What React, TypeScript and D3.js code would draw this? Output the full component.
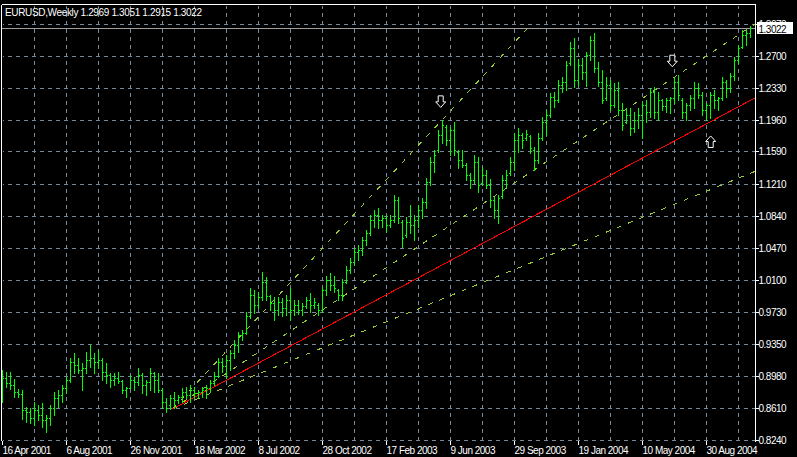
import React from "react";
import * as d3 from "d3";

// ---------- data ----------
const chartTitle = "EURUSD,Weekly  1.2969 1.3051 1.2915 1.3022";
const lastClose = 1.3022;

// weekly bars: [open, high, low, close]
const weeklyBars: number[][] = [
  [0.8763,0.9053,0.8682,0.8960],[0.8960,0.9030,0.8856,0.8902],[0.8902,0.9030,0.8833,0.8879],[0.8879,0.8949,0.8740,0.8798],
  [0.8798,0.8833,0.8740,0.8775],[0.8775,0.8821,0.8484,0.8588],[0.8588,0.8624,0.8449,0.8565],[0.8565,0.8612,0.8437,0.8495],
  [0.8495,0.8682,0.8414,0.8588],[0.8588,0.8647,0.8472,0.8530],[0.8530,0.8670,0.8391,0.8472],[0.8472,0.8530,0.8333,0.8495],
  [0.8495,0.8647,0.8414,0.8612],[0.8612,0.8798,0.8530,0.8728],[0.8728,0.8821,0.8624,0.8763],[0.8763,0.8879,0.8682,0.8844],
  [0.8844,0.8972,0.8786,0.8937],[0.8937,0.9192,0.8914,0.9146],[0.9146,0.9250,0.9018,0.9111],[0.9111,0.9192,0.9018,0.9053],
  [0.9053,0.9134,0.8821,0.9076],[0.9076,0.9262,0.9018,0.9169],[0.9169,0.9343,0.9088,0.9192],[0.9192,0.9250,0.9018,0.9146],
  [0.9146,0.9285,0.9076,0.9169],[0.9169,0.9192,0.8937,0.9030],[0.9030,0.9134,0.8902,0.8995],[0.8995,0.9018,0.8856,0.8937],
  [0.8937,0.9018,0.8879,0.8960],[0.8960,0.9030,0.8902,0.8925],[0.8925,0.8937,0.8786,0.8821],[0.8821,0.8856,0.8740,0.8844],
  [0.8844,0.8995,0.8844,0.8937],[0.8937,0.8972,0.8821,0.8914],[0.8914,0.9076,0.8879,0.8995],[0.8995,0.9018,0.8786,0.8879],
  [0.8879,0.8937,0.8763,0.8914],[0.8914,0.9076,0.8821,0.9018],[0.9018,0.9030,0.8798,0.8937],[0.8937,0.9018,0.8798,0.8821],
  [0.8821,0.8844,0.8612,0.8682],[0.8682,0.8728,0.8565,0.8612],[0.8647,0.8763,0.8600,0.8728],[0.8728,0.8798,0.8612,0.8705],
  [0.8705,0.8763,0.8670,0.8740],[0.8740,0.8844,0.8682,0.8798],[0.8798,0.8856,0.8728,0.8763],[0.8763,0.8879,0.8682,0.8821],
  [0.8821,0.8856,0.8728,0.8786],[0.8786,0.8821,0.8740,0.8798],[0.8798,0.8856,0.8740,0.8821],[0.8821,0.8879,0.8728,0.8844],
  [0.8844,0.8937,0.8798,0.8902],[0.8902,0.9030,0.8879,0.8983],[0.8983,0.9192,0.8972,0.9146],[0.9146,0.9192,0.9030,0.9099],
  [0.9099,0.9227,0.8960,0.9169],[0.9169,0.9285,0.9053,0.9250],[0.9250,0.9401,0.9192,0.9343],[0.9343,0.9494,0.9262,0.9459],
  [0.9459,0.9517,0.9401,0.9482],[0.9482,0.9727,0.9471,0.9680],[0.9680,1.0005,0.9657,0.9924],[0.9924,0.9982,0.9715,0.9808],
  [0.9808,0.9959,0.9773,0.9901],[0.9901,1.0191,0.9866,1.0075],[1.0075,1.0133,0.9866,0.9912],[0.9912,0.9924,0.9750,0.9831],
  [0.9831,0.9901,0.9633,0.9750],[0.9750,0.9901,0.9692,0.9843],[0.9843,0.9889,0.9680,0.9773],[0.9773,0.9924,0.9692,0.9866],
  [0.9866,1.0005,0.9633,0.9750],[0.9750,0.9866,0.9692,0.9808],[0.9808,0.9866,0.9703,0.9750],[0.9750,0.9831,0.9692,0.9796],
  [0.9796,0.9901,0.9773,0.9866],[0.9866,0.9947,0.9727,0.9808],[0.9808,0.9889,0.9773,0.9843],[0.9808,0.9831,0.9692,0.9750],
  [0.9750,1.0017,0.9727,0.9982],[0.9982,1.0144,0.9924,1.0098],[1.0098,1.0179,0.9982,1.0040],[1.0040,1.0144,0.9959,1.0005],
  [0.9982,0.9994,0.9866,0.9924],[0.9924,1.0110,0.9866,1.0075],[1.0075,1.0260,1.0063,1.0214],[1.0214,1.0353,1.0179,1.0307],
  [1.0307,1.0469,1.0272,1.0423],[1.0423,1.0504,1.0330,1.0446],[1.0446,1.0597,1.0388,1.0562],[1.0562,1.0678,1.0504,1.0643],
  [1.0643,1.0853,1.0620,1.0795],[1.0795,1.0911,1.0714,1.0853],[1.0853,1.0934,1.0702,1.0795],[1.0795,1.0853,1.0714,1.0818],
  [1.0818,1.0853,1.0655,1.0737],[1.0737,1.0853,1.0714,1.0795],[1.0795,1.1085,1.0772,1.1027],[1.1027,1.1062,1.0760,1.0818],
  [1.0772,1.0795,1.0481,1.0585],[1.0620,1.0830,1.0597,1.0772],[1.0772,1.0969,1.0643,1.0737],[1.0737,1.0853,1.0562,1.0795],
  [1.0795,1.0969,1.0714,1.0911],[1.0911,1.1050,1.0818,1.1004],[1.1004,1.1282,1.0934,1.1236],[1.1236,1.1526,1.1201,1.1468],
  [1.1468,1.1607,1.1352,1.1549],[1.1607,1.1840,1.1584,1.1782],[1.1782,1.1956,1.1688,1.1898],[1.1875,1.1898,1.1665,1.1723],
  [1.1723,1.1875,1.1549,1.1840],[1.1840,1.1933,1.1549,1.1607],[1.1584,1.1607,1.1398,1.1491],[1.1491,1.1607,1.1410,1.1433],
  [1.1433,1.1456,1.1259,1.1317],[1.1317,1.1340,1.1166,1.1259],[1.1259,1.1549,1.1224,1.1468],[1.1468,1.1526,1.1120,1.1201],
  [1.1224,1.1410,1.1201,1.1317],[1.1317,1.1375,1.1166,1.1201],[1.1201,1.1271,1.0946,1.1027],[1.1027,1.1062,1.0818,1.0911],
  [1.0911,1.1085,1.0760,1.1050],[1.1073,1.1317,1.1050,1.1259],[1.1259,1.1375,1.1178,1.1317],[1.1340,1.1526,1.1317,1.1468],
  [1.1468,1.1805,1.1375,1.1723],[1.1723,1.1863,1.1584,1.1782],[1.1782,1.1805,1.1631,1.1723],[1.1747,1.1840,1.1723,1.1793],
  [1.1770,1.1782,1.1572,1.1631],[1.1607,1.1642,1.1375,1.1491],[1.1491,1.1805,1.1456,1.1747],[1.1747,1.1991,1.1723,1.1933],
  [1.1933,1.2072,1.1782,1.2014],[1.2014,1.2269,1.1991,1.2223],[1.2223,1.2281,1.2107,1.2188],[1.2188,1.2420,1.2165,1.2362],
  [1.2362,1.2455,1.2281,1.2397],[1.2397,1.2640,1.2304,1.2594],[1.2617,1.2862,1.2594,1.2791],[1.2791,1.2908,1.2339,1.2420],
  [1.2420,1.2664,1.2362,1.2594],[1.2594,1.2675,1.2432,1.2513],[1.2513,1.2745,1.2350,1.2710],[1.2710,1.2931,1.2652,1.2885],
  [1.2885,1.2966,1.2513,1.2559],[1.2559,1.2629,1.2350,1.2397],[1.2397,1.2536,1.2153,1.2188],[1.2211,1.2455,1.2188,1.2362],
  [1.2362,1.2420,1.2072,1.2130],[1.2130,1.2385,1.2107,1.2304],[1.2304,1.2397,1.2014,1.2072],[1.2072,1.2153,1.1840,1.1898],
  [1.1933,1.2095,1.1921,1.2014],[1.2014,1.2095,1.1782,1.1863],[1.1863,1.2049,1.1817,1.1956],[1.1956,1.2095,1.1863,1.2014],
  [1.2014,1.2165,1.1747,1.2130],[1.2130,1.2188,1.1933,1.2049],[1.2049,1.2327,1.1991,1.2281],[1.2281,1.2339,1.1979,1.2049],
  [1.2049,1.2281,1.1956,1.2188],[1.2188,1.2200,1.2072,1.2118],[1.2118,1.2211,1.2049,1.2188],[1.2188,1.2223,1.2037,1.2211],
  [1.2211,1.2443,1.2153,1.2397],[1.2397,1.2478,1.2188,1.2246],[1.2188,1.2211,1.1979,1.2049],[1.2049,1.2153,1.1956,1.2130],
  [1.2130,1.2246,1.2072,1.2211],[1.2211,1.2397,1.2095,1.2327],[1.2327,1.2385,1.2211,1.2246],[1.2246,1.2281,1.2014,1.2072],
  [1.2072,1.2153,1.1956,1.2130],[1.2130,1.2281,1.1979,1.2246],[1.2246,1.2304,1.2095,1.2188],[1.2188,1.2223,1.2072,1.2211],
  [1.2211,1.2455,1.2188,1.2397],[1.2397,1.2420,1.2223,1.2327],[1.2327,1.2501,1.2281,1.2466],[1.2466,1.2687,1.2420,1.2652],
  [1.2652,1.2826,1.2617,1.2791],[1.2803,1.3001,1.2791,1.2943],[1.2943,1.3001,1.2826,1.2966],[1.2969,1.3051,1.2915,1.3022],
];

const priceTicks = [1.307, 1.27, 1.233, 1.196, 1.159, 1.121, 1.084, 1.047, 1.01, 0.973, 0.935, 0.898, 0.861, 0.824];
const dateLabels = ["16 Apr 2001", "6 Aug 2001", "26 Nov 2001", "18 Mar 2002", "8 Jul 2002", "28 Oct 2002",
  "17 Feb 2003", "9 Jun 2003", "29 Sep 2003", "19 Jan 2004", "10 May 2004", "30 Aug 2004"];
const dateLabelBars = [0, 16, 32, 48, 64, 80, 96, 112, 128, 144, 160, 176];
const gridBars = [8, 16, 24, 32, 40, 48, 56, 64, 72, 80, 88, 96, 104, 112, 120, 128, 136, 144, 152, 160, 168, 176, 184];

// fan lines from the Nov 2001 low
const fanOrigin = { bar: 42.5, price: 0.86 };
const fanLines = [
  { bar: 131, price: 1.3007, kind: "dash" },
  { bar: 188.1, price: 1.307, kind: "dash" },
  { bar: 188.1, price: 1.1358, kind: "dash" },
  { bar: 188.1, price: 1.2211, kind: "solid" },
];

// arrow marks (tip position)
const arrowMarks = [
  { bar: 109.55, price: 1.2102, dir: "down" },
  { bar: 167.45, price: 1.2574, dir: "down" },
  { bar: 177.05, price: 1.177, dir: "up" },
];

// ---------- layout ----------
const W = 797;
const H = 457;
const plotLeft = 1.5;
const plotRight = 755.5;
const plotTop = 4.5;
const plotBottom = 440.5;
const FONT = "'Liberation Sans', Arial, sans-serif";
const GRID = "#778899";
const BAR = "#00ff00";
const FAN = "#9acd32";

export default function App() {
  React.useEffect(() => {
    document.body.style.margin = "0";
    document.body.style.background = "#000";
  }, []);

  const x = d3.scaleLinear().domain([0, 187]).range([2.5, 750.5]);
  const y = d3.scaleLinear().domain([0.824, 1.307]).range([440, 24]);
  const ry = (v: number) => Math.round(y(v));

  const arrowPath = (cx: number, ty: number, dir: string) => {
    const s = dir === "down" ? -1 : 1;
    const pts: [number, number][] = [
      [cx, ty],
      [cx + 5, ty + s * 5.5],
      [cx + 2.5, ty + s * 5.5],
      [cx + 2.5, ty + s * 11.5],
      [cx - 2.5, ty + s * 11.5],
      [cx - 2.5, ty + s * 5.5],
      [cx - 5, ty + s * 5.5],
    ];
    return d3.line()(pts) + "Z";
  };

  const lastY = ry(lastClose) + 0.5;

  return (
    <div style={{ position: "absolute", left: 0, top: 0 }}>
      <svg width={W} height={H} style={{ display: "block", background: "#000" }}>
        <defs>
          <clipPath id="plotClip">
            <rect x={plotLeft + 0.5} y={plotTop + 0.5} width={plotRight - plotLeft - 1} height={plotBottom - plotTop} />
          </clipPath>
        </defs>
        <rect x={0} y={0} width={W} height={H} fill="#000" />

        {/* grid */}
        <g stroke={GRID} strokeWidth={1} strokeDasharray="4 4" shapeRendering="crispEdges">
          {priceTicks.map((v) => (
            <line key={"h" + v} x1={plotRight} x2={plotLeft + 1} y1={ry(v) + 0.5} y2={ry(v) + 0.5} />
          ))}
          {gridBars.map((b) => (
            <line key={"v" + b} x1={x(b)} x2={x(b)} y1={plotBottom} y2={plotTop + 1} />
          ))}
        </g>

        {/* last price line */}
        <line x1={plotLeft} x2={plotRight} y1={lastY} y2={lastY} stroke="#a0a0a0" shapeRendering="crispEdges" />

        {/* fan lines */}
        <g clipPath="url(#plotClip)" shapeRendering="crispEdges">
          {fanLines.map((f, i) => (
            <line
              key={"f" + i}
              x1={x(fanOrigin.bar)}
              y1={y(fanOrigin.price)}
              x2={x(f.bar)}
              y2={y(f.price)}
              stroke={f.kind === "solid" ? "#ff0000" : FAN}
              strokeWidth={1}
              strokeDasharray={f.kind === "solid" ? undefined : "5 7"}
            />
          ))}
        </g>

        {/* bars */}
        <g fill={BAR} shapeRendering="crispEdges">
          {weeklyBars.map((d, i) => {
            const col = Math.round(x(i) - 0.5);
            const yh = ry(d[1]);
            const yl = ry(d[2]);
            return (
              <g key={"b" + i}>
                <rect x={col} y={yh} width={1} height={Math.max(1, yl - yh + 1)} />
                <rect x={col - 1} y={ry(d[0])} width={1} height={1} />
                <rect x={col + 1} y={ry(d[3])} width={1} height={1} />
              </g>
            );
          })}
        </g>

        {/* arrows */}
        {arrowMarks.map((a, i) => (
          <path key={"a" + i} d={arrowPath(x(a.bar), y(a.price), a.dir)} fill="#000" stroke="#fff" strokeWidth={1} />
        ))}

        {/* frame */}
        <g stroke="#fff" strokeWidth={1} shapeRendering="crispEdges">
          <line x1={plotLeft} x2={plotRight} y1={plotTop} y2={plotTop} />
          <line x1={plotLeft} x2={plotLeft} y1={plotTop} y2={plotBottom} />
          <line x1={plotRight} x2={plotRight} y1={plotTop} y2={plotBottom + 1} />
        </g>

        {/* title */}
        <text x={5} y={16} fill="#fff" fontFamily={FONT} fontSize={10} letterSpacing={-0.35}>
          {chartTitle}
        </text>

        {/* price axis */}
        <g fontFamily={FONT} fontSize={10} letterSpacing={-0.5}>
          {priceTicks.map((v) => (
            <g key={"t" + v}>
              <line x1={plotRight} x2={plotRight + 3} y1={ry(v) + 0.5} y2={ry(v) + 0.5} stroke="#fff" shapeRendering="crispEdges" />
              <text x={plotRight + 3} y={ry(v) + 4} fill="#fff">
                {v.toFixed(4)}
              </text>
            </g>
          ))}
          <rect x={757} y={lastY - 6.5} width={36} height={12} fill="#fff" />
          <text x={plotRight + 3} y={lastY + 4} fill="#000">
            {lastClose.toFixed(4)}
          </text>
        </g>

        {/* time axis */}
        <g fontFamily={FONT} fontSize={10} letterSpacing={-0.5}>
          {dateLabels.map((lab, i) => (
            <g key={"d" + i}>
              <line x1={x(dateLabelBars[i]) - 0.5} x2={x(dateLabelBars[i]) - 0.5} y1={plotBottom} y2={plotBottom + 4} stroke="#fff" shapeRendering="crispEdges" />
              <text x={x(dateLabelBars[i])} y={454} fill="#fff">
                {lab}
              </text>
            </g>
          ))}
        </g>
      </svg>
    </div>
  );
}
